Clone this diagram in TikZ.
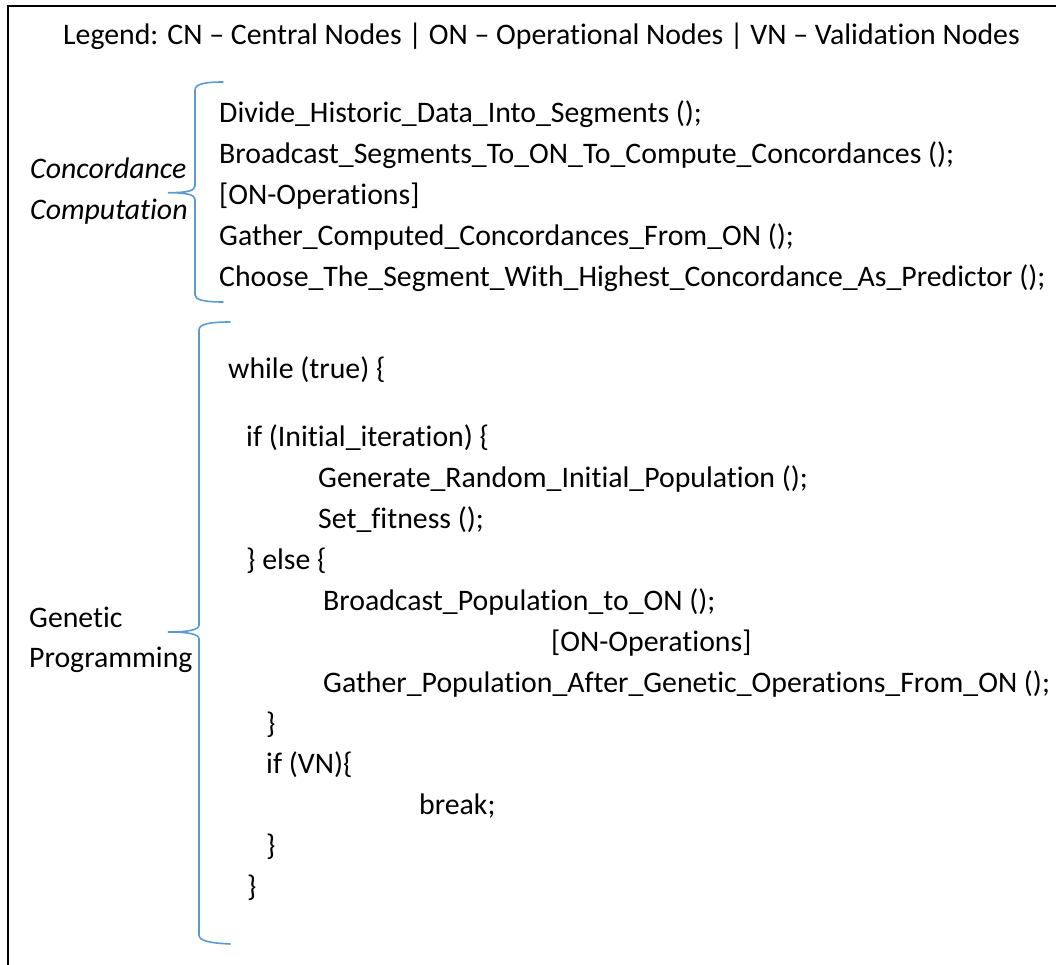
\documentclass[tikz,border=0pt]{standalone}
\usepackage{fontspec}
\setmainfont[RawFeature=-liga]{Carlito}
\definecolor{bracecol}{RGB}{91,155,213}
\begin{document}
\begin{tikzpicture}[x=1pt,y=-1pt,
  txt/.style={anchor=base west,inner sep=0pt,font=\fontsize{29.8}{41}\selectfont},
  itxt/.style={txt,font=\fontsize{29.8}{41}\selectfont\itshape},
  bracepath/.style={draw=bracecol,line width=1.6pt,line cap=round}]
\useasboundingbox (0,0) rectangle (1056,965);
% frame (top and left edges)
\draw[line width=2pt] (8,965) -- (8,6) -- (1056,6);

% legend
\node[txt] (legend) at (63,45) {Legend: CN -- Central Nodes | ON -- Operational Nodes | VN -- Validation Nodes};

% concordance computation block
\node[itxt] (cc1) at (30,179) {Concordance};
\node[itxt] (cc2) at (30,220) {Computation};
\draw[bracepath] (223,82) .. controls (205,82) and (195,84) .. (195,90)
  -- (195,186) .. controls (195,191) and (186,192.7) .. (168,192.7)
  .. controls (186,192.7) and (195,194.5) .. (195,199.5)
  -- (195,295) .. controls (195,300) and (205,302) .. (223,302);
\node[txt] (c1) at (219,123) {Divide\_Historic\_Data\_Into\_Segments ();};
\node[txt] (c2) at (219,164) {Broadcast\_Segments\_To\_ON\_To\_Compute\_Concordances ();};
\node[txt] (c3) at (219,205) {[ON-Operations]};
\node[txt] (c4) at (219,246) {Gather\_Computed\_Concordances\_From\_ON ();};
\node[txt] (c5) at (219,287) {Choose\_The\_Segment\_With\_Highest\_Concordance\_As\_Predictor ();};

% genetic programming block
\node[txt] (gp1) at (29,627) {Genetic};
\node[txt] (gp2) at (29,667) {Programming};
\draw[bracepath] (230,322) .. controls (210,322) and (199,324) .. (199,330)
  -- (199,625) .. controls (199,630) and (188,632) .. (168,632)
  .. controls (188,632) and (199,634) .. (199,639)
  -- (199,935) .. controls (199,941) and (210,943) .. (230,944);
\node[txt] (g1) at (228,378) {while (true) \{};
\node[txt] (g2) at (246,446) {if (Initial\_iteration) \{};
\node[txt] (g3) at (318,487) {Generate\_Random\_Initial\_Population ();};
\node[txt] (g4) at (318,528) {Set\_fitness ();};
\node[txt] (g5) at (246,569) {\} else \{};
\node[txt] (g6) at (323,610) {Broadcast\_Population\_to\_ON ();};
\node[txt] (g7) at (551,651) {[ON-Operations]};
\node[txt] (g8) at (323,692) {Gather\_Population\_After\_Genetic\_Operations\_From\_ON ();};
\node[txt] (g9) at (266,733) {\}};
\node[txt] (g10) at (266,773) {if (VN)\{};
\node[txt] (g11) at (419,814) {break;};
\node[txt] (g12) at (266,855) {\}};
\node[txt] (g13) at (247,896) {\}};
\end{tikzpicture}
\end{document}
